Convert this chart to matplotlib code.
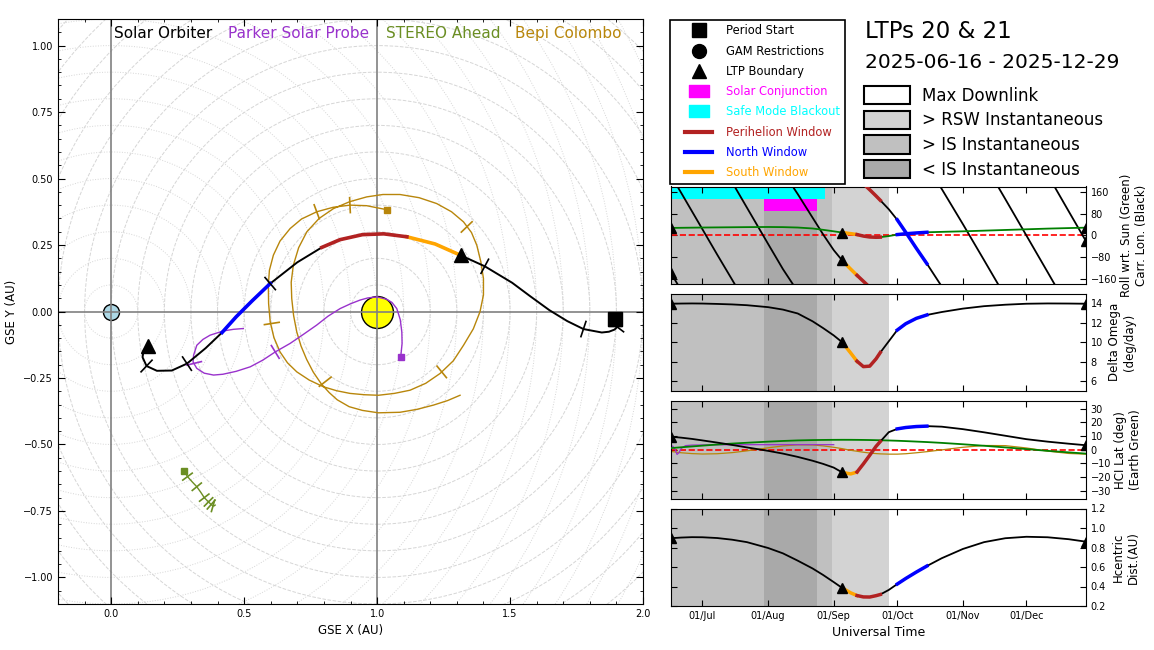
import numpy as np
import matplotlib
matplotlib.use('Agg')
import matplotlib.pyplot as plt
import matplotlib.dates as mdates
from matplotlib.lines import Line2D
from matplotlib.patches import Patch, Circle
from matplotlib.path import Path
from matplotlib.legend_handler import HandlerLine2D
from matplotlib.ticker import AutoMinorLocator, MultipleLocator

period_start = '2025-06-16'
period_end = '2025-12-29'

# sample days since period start (Solar Orbiter)
days = [0, 5, 10, 15, 22, 29, 36, 46, 53, 60, 67, 72, 77, 81, 85, 88, 91, 94, 97, 99,
        103, 107, 111, 116, 121, 128, 138, 148, 158, 168, 178, 188, 196]
solo_x = [1.895, 1.903, 1.906, 1.903, 1.893, 1.872, 1.845, 1.776, 1.715, 1.648, 1.575,
          1.508, 1.405, 1.315, 1.218, 1.112, 1.025, 0.945, 0.860, 0.792, 0.700, 0.598,
          0.530, 0.470, 0.417, 0.355, 0.285, 0.228, 0.172, 0.133, 0.118, 0.122, 0.139]
solo_y = [-0.030, -0.042, -0.051, -0.058, -0.068, -0.076, -0.079, -0.066, -0.036, 0.005,
          0.058, 0.108, 0.170, 0.211, 0.254, 0.281, 0.292, 0.289, 0.270, 0.241, 0.185,
          0.105, 0.040, -0.020, -0.079, -0.138, -0.196, -0.222, -0.223, -0.205, -0.172,
          -0.146, -0.129]
hc_dist = [0.895, 0.902, 0.906, 0.905, 0.897, 0.880, 0.855, 0.795, 0.740, 0.665, 0.585,
           0.518, 0.445, 0.385, 0.335, 0.307, 0.293, 0.292, 0.306, 0.318, 0.365, 0.425,
           0.482, 0.548, 0.610, 0.690, 0.785, 0.855, 0.895, 0.910, 0.905, 0.885, 0.860]
delta_omega = [13.95, 13.97, 13.98, 13.97, 13.93, 13.88, 13.80, 13.60, 13.35, 12.95, 12.15,
               11.45, 10.70, 10.00, 8.90, 8.05, 7.50, 7.55, 8.30, 8.95, 10.10, 11.25,
               11.90, 12.45, 12.80, 13.10, 13.45, 13.70, 13.85, 13.95, 13.98, 13.97, 13.95]
hci_lat = [9.5, 8.8, 7.9, 6.8, 5.2, 3.5, 1.7, -0.8, -2.8, -5.2, -8.0, -10.3, -13.0, -16.5,
           -17.6, -16.2, -10.3, -4.0, 2.5, 6.0, 12.8, 15.2, 16.2, 16.9, 17.2, 16.8, 15.0,
           12.7, 10.2, 7.7, 5.9, 4.4, 3.3]
roll_sun = [27, 27.5, 28, 28.5, 29, 29.5, 30, 30.5, 30, 28.5, 25, 20, 14.5, 10, 6, 2.5, -3,
            -6.5, -7.5, -7, -3, 2.5, 5.5, 8.5, 11, 12.5, 14.5, 17, 19.5, 22, 24.5, 26.5, 28]
carr_lon = [-138, -204, -271, -338, -432, -524, -618, -752, -845, -928, -1015, -1077, -1135,
            -1173, -1205, -1228, -1250, -1272, -1295, -1311, -1344, -1383, -1429, -1488,
            -1545, -1629, -1759, -1892, -2026, -2161, -2296, -2432, -2540]  # unwrapped
earth_lat = [1.2, 1.8, 2.4, 3.0, 3.8, 4.5, 5.1, 5.9, 6.4, 6.8, 7.05, 7.15, 7.22, 7.25, 7.24,
             7.2, 7.15, 7.08, 6.98, 6.9, 6.75, 6.55, 6.3, 5.95, 5.6, 5.0, 4.0, 2.9, 1.7,
             0.5, -0.8, -1.9, -2.8]
bepi_lat = [-1.2, -2.2, -2.8, -3.1, -2.9, -2.1, -0.8, 1.4, 2.8, 3.6, 3.5, 2.8, 1.8, 0.8,
            -0.4, -1.1, -1.8, -2.4, -2.8, -3.0, -3.2, -3.2, -2.9, -2.2, -1.4, -0.1, 1.8,
            3.1, 3.0, 1.3, -1.0, -2.7, -3.2]

psp_days = [0, 1, 2, 3, 4, 5, 7, 10, 20, 40, 60, 77]
psp_lat = [3.0, 2.5, 0.5, -3.4, -2.0, 1.0, 3.0, 3.4, 3.6, 3.7, 3.7, 3.7]

ltp_days = [0, 81, 196]
month_days = [15, 46, 77, 107, 138, 168]

# windows (days since start)
windows = [(81, 88), (88, 99), (107, 121)]
window_colors = ['orange', 'firebrick', 'blue']

# downlink shading (days since start)
shade_start = [0, 44, 69, 76]
shade_end = [44, 69, 76, 103]
shade_color = ['#c0c0c0', '#a9a9a9', '#c0c0c0', '#d3d3d3']

conj_days = (44, 69)
conj_range = (90, 135)
safe_days = (0, 73)
safe_range = (135, 180)

# other spacecraft (GSE, AU)
psp_x = [1.089, 1.094, 1.093, 1.087, 1.074, 1.056, 1.036, 0.999, 0.965, 0.936, 0.900,
         0.861, 0.815, 0.773, 0.720, 0.673, 0.617, 0.570, 0.523, 0.470, 0.420, 0.385,
         0.350, 0.322, 0.308, 0.310, 0.322, 0.345, 0.372, 0.422, 0.460, 0.497]
psp_y = [-0.170, -0.120, -0.077, -0.030, 0.011, 0.034, 0.046, 0.055, 0.051, 0.043, 0.029,
         0.011, -0.018, -0.051, -0.088, -0.120, -0.152, -0.183, -0.208, -0.225, -0.236,
         -0.239, -0.232, -0.214, -0.190, -0.164, -0.127, -0.105, -0.089, -0.073, -0.067,
         -0.064]
psp_tick_x = [0.617, 0.312]
psp_tick_y = [-0.152, -0.195]

stereo_x = [0.274, 0.287, 0.305, 0.322, 0.337, 0.350, 0.360, 0.366, 0.372, 0.376, 0.380,
            0.383, 0.387, 0.391]
stereo_y = [-0.599, -0.621, -0.641, -0.659, -0.680, -0.700, -0.710, -0.716, -0.722, -0.726,
            -0.729, -0.731, -0.731, -0.728]
stereo_tick_x = [0.287, 0.322, 0.350, 0.366, 0.376, 0.383]
stereo_tick_y = [-0.621, -0.659, -0.700, -0.716, -0.726, -0.731]

bepi_x = [1.036, 0.960, 0.898, 0.835, 0.773, 0.716, 0.673, 0.635, 0.610, 0.595, 0.591,
          0.592, 0.598, 0.612, 0.635, 0.663, 0.698, 0.745, 0.798, 0.848, 0.898, 0.952,
          1.005, 1.065, 1.124, 1.183, 1.237, 1.287, 1.325, 1.362, 1.387, 1.400, 1.400,
          1.390, 1.375, 1.355, 1.325, 1.280, 1.224, 1.158, 1.086, 1.022, 0.961, 0.897,
          0.836, 0.782, 0.736, 0.705, 0.685, 0.677, 0.679, 0.686, 0.698, 0.714, 0.735,
          0.760, 0.790, 0.820, 0.850, 0.895, 0.945, 1.005, 1.086, 1.150, 1.212, 1.265, 1.312]
bepi_y = [0.383, 0.398, 0.400, 0.392, 0.375, 0.348, 0.312, 0.265, 0.212, 0.155, 0.099,
          0.030, -0.039, -0.098, -0.152, -0.193, -0.227, -0.258, -0.283, -0.298, -0.308,
          -0.313, -0.315, -0.308, -0.296, -0.270, -0.233, -0.185, -0.127, -0.065, -0.001,
          0.062, 0.124, 0.188, 0.249, 0.297, 0.337, 0.375, 0.406, 0.428, 0.440, 0.440,
          0.431, 0.413, 0.387, 0.350, 0.300, 0.240, 0.174, 0.110, 0.049, -0.015, -0.077,
          -0.130, -0.180, -0.228, -0.272, -0.305, -0.332, -0.358, -0.372, -0.381, -0.379,
          -0.368, -0.352, -0.335, -0.315]
bepi_tick_x = [0.898, 0.773, 0.604, 0.805, 1.243, 1.337]
bepi_tick_y = [0.400, 0.375, -0.045, -0.264, -0.227, 0.318]

sun_pos = (1.0, 0.0)
earth_pos = (0.0, 0.0)

c_psp = '#9932CC'
c_sta = '#6B8E23'
c_bepi = '#B8860B'

W, H = 1154, 650


def fig_box(left, top, right, bottom):
    return [left / W, 1 - bottom / H, (right - left) / W, (bottom - top) / H]


def draw_ticks(ax, px, py, tx, ty, color, half=0.028):
    px = np.asarray(px, float)
    py = np.asarray(py, float)
    gx = np.gradient(px)
    gy = np.gradient(py)
    for x0, y0 in zip(tx, ty):
        i = np.argmin((px - x0) ** 2 + (py - y0) ** 2)
        n = np.hypot(gx[i], gy[i])
        nx, ny = -gy[i] / n, gx[i] / n
        ax.plot([x0 - half * nx, x0 + half * nx], [y0 - half * ny, y0 + half * ny],
                color=color, lw=1.2, zorder=4)


fig = plt.figure(figsize=(W / 100, H / 100), dpi=100)

# ---------------- orbit plot ----------------
ax = fig.add_axes(fig_box(58, 18, 643, 605))
for r in np.arange(0.1, 2.65, 0.1):
    ax.add_patch(Circle(sun_pos, r, fill=False, ls='--', color='#d6d6d6', lw=0.7, zorder=0))
    ax.add_patch(Circle(earth_pos, r, fill=False, ls=':', color='#d6d6d6', lw=0.7, zorder=0))
ax.plot(*sun_pos, 'o', ms=23, mfc='yellow', mec='black', mew=1, zorder=1)
ax.plot(*earth_pos, 'o', ms=11.5, mfc='lightblue', mec='black', mew=1, zorder=1)
ax.axvline(earth_pos[0], color='gray', lw=1.2, zorder=1.5)
ax.axvline(sun_pos[0], color='gray', lw=1.2, zorder=1.5)
ax.axhline(0, color='gray', lw=1.2, zorder=1.5)

ax.plot(bepi_x, bepi_y, color=c_bepi, lw=1, zorder=2)
ax.plot(bepi_x[0], bepi_y[0], 's', color=c_bepi, ms=5, zorder=5)
draw_ticks(ax, bepi_x, bepi_y, bepi_tick_x, bepi_tick_y, c_bepi)

ax.plot(stereo_x, stereo_y, color=c_sta, lw=1, zorder=2)
ax.plot(stereo_x[0], stereo_y[0], 's', color=c_sta, ms=5, zorder=5)
draw_ticks(ax, stereo_x, stereo_y, stereo_tick_x, stereo_tick_y, c_sta, half=0.022)

ax.plot(psp_x, psp_y, color=c_psp, lw=1, zorder=2)
ax.plot(psp_x[0], psp_y[0], 's', color=c_psp, ms=5, zorder=5)
draw_ticks(ax, psp_x, psp_y, psp_tick_x, psp_tick_y, c_psp)

d = np.array(days, float)
sx = np.array(solo_x)
sy = np.array(solo_y)
ax.plot(sx, sy, color='black', lw=1.4, zorder=3)
for (a, b), c in zip(windows, window_colors):
    m = (d >= a) & (d <= b)
    ax.plot(sx[m], sy[m], color=c, lw=2.6, zorder=3.5)
mi = np.isin(d, month_days)
draw_ticks(ax, sx, sy, sx[mi], sy[mi], 'black', half=0.03)
ml = np.isin(d, ltp_days)
ax.plot(sx[ml], sy[ml], '^', color='black', ms=10, zorder=5)
ax.plot(sx[0], sy[0], 's', color='black', ms=10, zorder=6)

ax.set_xlim(-0.2, 2.0)
ax.set_ylim(-1.1, 1.1)
ax.set_aspect('equal')
ax.xaxis.set_major_locator(MultipleLocator(0.5))
ax.yaxis.set_major_locator(MultipleLocator(0.25))
ax.xaxis.set_minor_locator(AutoMinorLocator())
ax.yaxis.set_minor_locator(AutoMinorLocator())
ax.tick_params(which='both', direction='in', top=True, right=True, labelsize=7)
ax.tick_params(which='major', length=5)
ax.tick_params(which='minor', length=2.5)
ax.set_xlabel('GSE X (AU)', fontsize=8.5)
ax.set_ylabel('GSE Y (AU)', fontsize=8.5)
names = ['Solar Orbiter', 'Parker Solar Probe', 'STEREO Ahead', 'Bepi Colombo']
name_colors = ['black', c_psp, c_sta, c_bepi]
name_x = [0.0957, 0.291, 0.561, 0.781]
for nm, cl, xx in zip(names, name_colors, name_x):
    ax.text(xx, 0.976, nm, color=cl, fontsize=11, transform=ax.transAxes, va='center')

# ---------------- time panels ----------------
t0 = mdates.datestr2num(period_start)
t = t0 + d
tops = [186.5, 293.5, 401, 508.5]
panels = [fig.add_axes(fig_box(670.7, tp, 1085.7, tp + 97.5)) for tp in tops]


def series(ax, y, color='black', markers=True):
    y = np.asarray(y, float)
    ax.plot(t, y, color=color, lw=1.3, zorder=3)
    for (a, b), c in zip(windows, window_colors):
        m = (d >= a) & (d <= b)
        ax.plot(t[m], y[m], color=c, lw=2.5, zorder=4)
    if markers:
        m = np.isin(d, ltp_days)
        ax.plot(t[m], y[m], '^', color='black', ms=7, zorder=5)


for p in panels:
    for s, e, c in zip(shade_start, shade_end, shade_color):
        p.axvspan(t0 + s, t0 + e, color=c, lw=0, zorder=0)
    p.set_xlim(t0, mdates.datestr2num(period_end))
    p.xaxis.set_major_locator(mdates.MonthLocator())
    p.xaxis.set_major_formatter(mdates.DateFormatter('%d/%b'))
    p.tick_params(direction='in', top=True, bottom=True, left=True, right=True,
                  labelleft=False, labelright=True, labelsize=7, length=4)
    p.yaxis.set_label_position('right')
    if p is not panels[-1]:
        p.tick_params(labelbottom=False)

# panel 1: roll and Carrington longitude
p1 = panels[0]
p1.fill_between([t0 + safe_days[0], t0 + safe_days[1]], safe_range[0], safe_range[1],
                color='cyan', lw=0, zorder=1)
p1.fill_between([t0 + conj_days[0], t0 + conj_days[1]], conj_range[0], conj_range[1],
                color='magenta', lw=0, zorder=1)
p1.axhline(0, color='red', ls='--', lw=1.2, zorder=2)
cl = np.array(carr_lon, float)
for k in range(9):
    series(p1, cl + 360 * k, markers=False)
mk = np.isin(d, ltp_days)
p1.plot(t[mk], (cl[mk] + 180) % 360 - 180, '^', color='black', ms=7, zorder=5)
series(p1, roll_sun, color='green')
p1.set_ylim(-180, 180)
p1.set_yticks([-160, -80, 0, 80, 160])
p1.set_ylabel('Roll wrt. Sun (Green)\nCarr. Lon. (Black)', fontsize=8.5, labelpad=2)

# panel 2: delta omega
p2 = panels[1]
series(p2, delta_omega)
p2.set_ylim(5, 15)
p2.set_yticks([6, 8, 10, 12, 14])
p2.set_ylabel('Delta Omega\n(deg/day)', fontsize=8.5)

# panel 3: HCI latitude
p3 = panels[2]
p3.axhline(0, color='red', ls='--', lw=1.2, zorder=2)
p3.plot(t, bepi_lat, color=c_bepi, lw=0.9, zorder=2.5)
p3.plot(t0 + np.array(psp_days, float), psp_lat, color=c_psp, lw=0.9, zorder=2.5)
p3.plot(t, earth_lat, color='green', lw=1.3, zorder=2.6)
series(p3, hci_lat)
p3.set_ylim(-35.5, 35.5)
p3.set_yticks([-30, -20, -10, 0, 10, 20, 30])
p3.set_ylabel('HCI Lat (deg)\n(Earth Green)', fontsize=8.5, labelpad=2)

# panel 4: heliocentric distance
p4 = panels[3]
series(p4, hc_dist)
p4.set_ylim(0.2, 1.2)
p4.set_yticks([0.2, 0.4, 0.6, 0.8, 1.0, 1.2])
p4.set_ylabel('Hcentric\nDist.(AU)', fontsize=8.5)
p4.set_xlabel('Universal Time', fontsize=9)

# ---------------- legends and titles ----------------
rect = Path([(-1, -0.6), (1, -0.6), (1, 0.6), (-1, 0.6), (-1, -0.6)], closed=True)
handles = [
    Line2D([], [], marker='s', color='black', ls='none', ms=9.5),
    Line2D([], [], marker='o', color='black', ls='none', ms=10),
    Line2D([], [], marker='^', color='black', ls='none', ms=10),
    Line2D([], [], marker=rect, color='magenta', ls='none', ms=14),
    Line2D([], [], marker=rect, color='cyan', ls='none', ms=14),
    Line2D([], [], color='firebrick', lw=3),
    Line2D([], [], color='blue', lw=3),
    Line2D([], [], color='orange', lw=3),
]
labels = ['Period Start', 'GAM Restrictions', 'LTP Boundary', 'Solar Conjunction',
          'Safe Mode Blackout', 'Perihelion Window', 'North Window', 'South Window']
label_colors = ['black', 'black', 'black', 'magenta', 'cyan', 'firebrick', 'blue', 'orange']
leg = fig.legend(handles, labels, loc='upper left', bbox_to_anchor=(670 / W, 1 - 20 / H),
                 borderaxespad=0, borderpad=0.38, labelspacing=0.63, handlelength=3.3,
                 handletextpad=1.2, fontsize=8.3, fancybox=False, edgecolor='black',
                 framealpha=1, labelcolor=label_colors,
                 handler_map={Line2D: HandlerLine2D(xpad=0.9)})
leg.get_frame().set_linewidth(1.2)

dl_labels = ['Max Downlink', '> RSW Instantaneous', '> IS Instantaneous', '< IS Instantaneous']
dl_colors = ['white', '#d3d3d3', '#c0c0c0', '#a9a9a9']
dl_handles = [Patch(facecolor=c, edgecolor='black', lw=1.5) for c in dl_colors]
fig.legend(dl_handles, dl_labels, loc='upper left', bbox_to_anchor=(864 / W, 1 - 86 / H),
           borderaxespad=0, borderpad=0, frameon=False, fontsize=12, handlelength=2.75,
           handleheight=1.3, handletextpad=0.72, labelspacing=0.36)

fig.text(865 / W, 1 - 31 / H, 'LTPs 20 & 21', fontsize=16.5, va='center')
fig.text(865 / W, 1 - 62 / H, period_start + ' - ' + period_end, fontsize=14.5, va='center')

fig.savefig('out.png', dpi=100)
